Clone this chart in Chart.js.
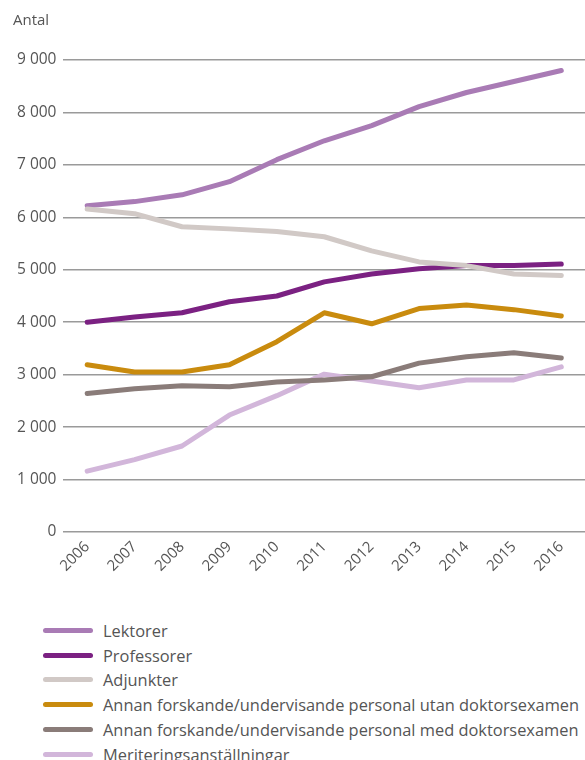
<!DOCTYPE html>
<html>
<head>
<meta charset="utf-8">
<script src="https://cdn.jsdelivr.net/npm/chart.js@4.4.0/dist/chart.umd.min.js"></script>
<style>
  html, body { margin: 0; padding: 0; background: #fff; }
  body { width: 585px; height: 760px; position: relative; overflow: hidden; font-family: "Open Sans", sans-serif; color: #555; }
  #wrap { position: absolute; left: 0; top: 0; width: 585px; height: 590px; }
  #ytitle { position: absolute; left: 13px; top: 9px; font-size: 15px; color: #555; }
  #legend { position: absolute; left: 43px; top: 618px; }
  .item { height: 24.8px; display: flex; align-items: center; font-size: 16.4px; color: #555; white-space: nowrap; }
  .sw { width: 50px; height: 5px; border-radius: 3px; margin-right: 10px; flex: none; }
</style>
</head>
<body>
<div id="wrap"><canvas id="c" width="585" height="581"></canvas></div>
<div id="ytitle">Antal</div>
<div id="legend"></div>
<script>
const years = ['2006','2007','2008','2009','2010','2011','2012','2013','2014','2015','2016'];
const yTickValues = [0,1000,2000,3000,4000,5000,6000,7000,8000,9000];
const yTickLabels = ['0','1 000','2 000','3 000','4 000','5 000','6 000','7 000','8 000','9 000'];
const seriesNames = [
  'Lektorer',
  'Professorer',
  'Adjunkter',
  'Annan forskande/undervisande personal utan doktorsexamen',
  'Annan forskande/undervisande personal med doktorsexamen',
  'Meriteringsanställningar'
];
const lektorer     = [6220,6300,6430,6680,7100,7460,7750,8110,8380,8590,8800];
const professorer  = [4000,4100,4180,4390,4500,4770,4920,5020,5080,5080,5110];
const adjunkter    = [6160,6070,5820,5780,5730,5630,5360,5150,5080,4920,4890];
const annanUtan    = [3190,3050,3050,3190,3630,4180,3970,4260,4330,4240,4120];
const annanMed     = [2640,2730,2790,2770,2860,2900,2960,3220,3340,3420,3320];
const meritering   = [1160,1380,1640,2230,2600,3010,2880,2750,2900,2900,3150];
const seriesColors = ['#a97bb5','#7b2182','#d1c9c6','#c98b0e','#8a7c79','#d2b6da'];

const seriesData = [lektorer, professorer, adjunkter, annanUtan, annanMed, meritering];
const drawOrder = [2,0,4,5,3,1];

const datasets = drawOrder.map(i => ({
  label: seriesNames[i],
  data: seriesData[i],
  borderColor: seriesColors[i],
  backgroundColor: seriesColors[i],
  borderWidth: 5,
  pointRadius: 0,
  borderCapStyle: 'round',
  borderJoinStyle: 'round',
  tension: 0,
  fill: false
}));

const tickFont = { family: '"Open Sans", sans-serif', size: 15.5 };

new Chart(document.getElementById('c'), {
  type: 'line',
  data: { labels: years, datasets },
  options: {
    responsive: false,
    animation: false,
    devicePixelRatio: 1,
    layout: { padding: { top: 60, right: 0, left: 10, bottom: 0 } },
    plugins: { legend: { display: false }, tooltip: { enabled: false } },
    scales: {
      x: {
        offset: true,
        grid: { display: false, drawTicks: false },
        border: { display: false },
        ticks: { color: '#555', font: { family: '"Open Sans", sans-serif', size: 15 }, minRotation: 45, maxRotation: 45, padding: 6 }
      },
      y: {
        min: 0, max: 9000,
        afterBuildTicks: (axis) => { axis.ticks = yTickValues.map(v => ({ value: v })); },
        grid: { color: '#9a9a9a', lineWidth: 1.5, drawTicks: false },
        border: { display: false },
        ticks: {
          color: '#555', font: tickFont, padding: 7,
          callback: (v) => { const k = yTickValues.indexOf(v); return k >= 0 ? yTickLabels[k] : ''; }
        }
      }
    }
  }
});

const legend = document.getElementById('legend');
seriesNames.forEach((name, i) => {
  const row = document.createElement('div');
  row.className = 'item';
  const sw = document.createElement('span');
  sw.className = 'sw';
  sw.style.background = seriesColors[i];
  const tx = document.createElement('span');
  tx.textContent = name;
  row.appendChild(sw); row.appendChild(tx);
  legend.appendChild(row);
});
</script>
</body>
</html>
